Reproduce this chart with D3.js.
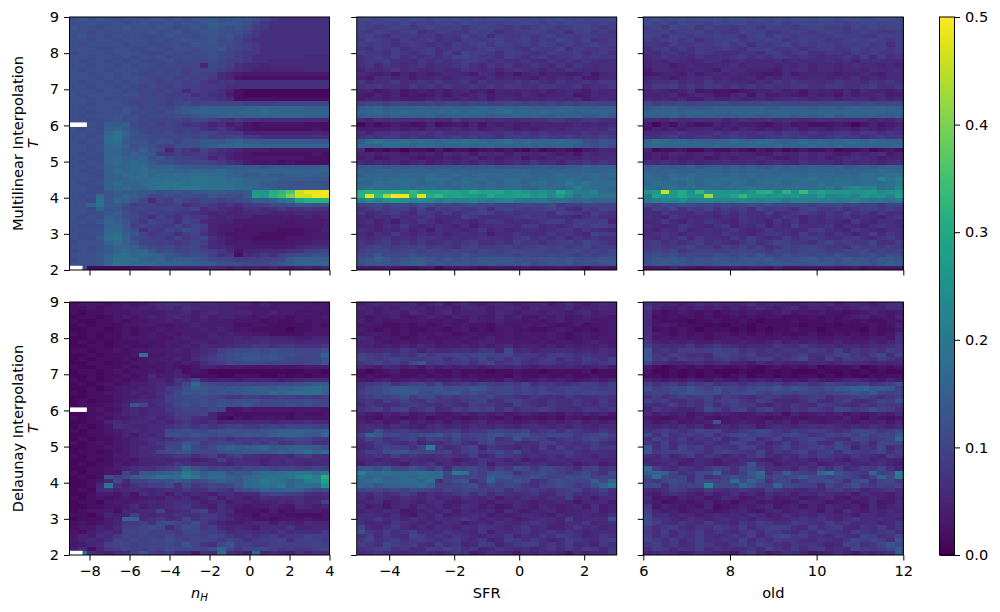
<!DOCTYPE html>
<html><head><meta charset="utf-8">
<script src="https://cdn.jsdelivr.net/npm/d3@7"></script>
<style>html,body{margin:0;background:#fff}svg{display:block}text{font-family:"DejaVu Sans";fill:#000}</style>
</head><body><svg id="c" width="1000" height="612"></svg>
<script>
// Values, one string per row (top row first), 30 blocks across.
// Letter code in hundredths: a=0.00 ... z=0.25, A=0.26 ... Y=0.50. Spaces are only for counting.
const mlNH = [
"mnmnmlmmmn nmnmnnomno nmkihhhhhh","mmnmmmlmnm mnmnmnonon mkihhhhhhh","nmmlmmnmmm nmlmnmonmn mjihhhhhhh","mmlmlmmmmn mmnlmnnmmm kihhhhhhhh",
"mnmmlmlmll mnmmlmnmnl jihhhhhhhh","mmlmmlmmml mlmnmmnlmk ihhhhhhhhh","mlmmmmlmml lmmlnmnmlk jihhhhhhhh","mmmllmmllm mlmmlmmnlk jihhhhhhhh",
"lmmmlmmmlk lmllmlmlkj iihhhhhhhh","mmlmmlmlml mklmllmlkj ihhhhhhggg","mlmmlmlmlk lmkllklkjj ihhggggggg","mmlmmlmlml kllkkflkjh ggfggggggg",
"mlmmlmmmlk lkljkkkjih gffffffggg","mmlmmlmlkk lkljkjjgfe dddddddddd","mmmlmlmmlk kljkjkigfd cccccccccc","mlmmlmlmll jkkjkihiih hhhhhhhhhh",
"mmlmmlmlkl kjkjjiiihh hhhhhhhhhh","mmmlmmllkk jkjgjiihfc bbbbbbbbbb","mlmmmlmmkk kjjjhihhec bbbbbbbbbb","mmlmlmllkl kjkjjiihgc cccccccccc",
"mmlmmmlkkl kjlljkkkkk jjjjkkkkkk","mlmmmlnmkl lkmooppppp qqqqqqqppp","mmlmmmnlll kmnoppqqqq qqrqqqqqqq","mlmmmnmmkl llmmnooppp ppqqqqqppp",
"mmllmnmmlk kkkjlljihi hhgggggggg","mmmlooplkl jkjhihfhef dcdddddccc","mlmlpqomlk kkjkjhgige dcccccccdc","mmllqsqnlk kljkjkkiii ffffffffff",
"mmlmrtpmml lkllkljjkk iihhhhhhhh","mlmlrsonnl mmkmmoonpq oooooooonn","mmlmqrpmnm kjmmmopqqr qqqqqqqqqq","mmlmqqonpn lfjihkihgf eeeddddddd",
"mlmlqqopon iijiijhgfe dcccccccdc","mmllqrppqm olkkjifhfe dddddddccc","mlmlqrqrqo mmlkkkjihg edddcdcccc","mmlmpqqrrp pqoonnnnoo oonoooooop",
"mlmlprqrsr qqqqrqqrqp ppqqqqqpqq","mmllpqrrsq rrsrssrrqp oopooppppp","mmmlpqqrrs ssrsttssrr qqppoooonn","mllmprqqrs sttsttsssr qqoonnmnnm",
"mmllpqrqqs ttuuutttts rqponnnnnn","mmllnpoonn mmnmnnoonn oBAFHKUXXY","mlmrnoqpnk lmlmllnmml oCBGIOUUXX","mmlsnqpnkg kjmkjlkjkl mooqsuDFFG",
"mnqtoomjkk jjkhijihih ijjllmnnmm","mmlqnnlkkj kkjjkgihgf hhghihhihh","mmlmnpmkjk jjiihgfgff gggfffggff","mlmlpomljh kihjiigfgf feeeeeefef",
"mmlnqpnkil jjhkjgfffe eeeeedeeee","mlllpqojkj jikikjfeee dddddddeee","mmmmqqomhj iljmkifeed ddddcccddf","mlmmrspnki jjhjkhfedd ddcccccdee",
"mllnstqllj jikijlhfed dccccdddee","lmmmqrpnkk jjijljgfee edddddeeff","mmlmoqqpml kljkkiggfe eeeeeefghh","lmlnoqrqqn lmkklkjigd ffggghhjjk",
"mmmnprsqrq pnmlmljhic ghihjkllnm","lmmnqsssqp qopoonlkkj jjkklopppp","mmmnqtsrrr qqqppoommm lkkmnopqqq","mmbbbbbccd eeeeeeffef efefedefef"];
const mlSFR = [
"llkllkmlkl lmllklmklk lklmllklkl","kjkkjljkjk kjlkjkjkkl kjkjlkkjkj","kjijkjijkj jkijkjjiji jkjijkkjij","jikjijkhij jiikjjhijj kjijhjkiji",
"jkihjijiih iikijhjiij ijkijijjii","ikjihjiijh ihjjijkijk ijiljikhij","jijihijihi hjijkikjij ikjijijkij","ihjijhiijh ijiijkijih jiikhjiiji",
"jiihjihijh jhkjjihjji hijiijhijh","hijijhihih ikkjiihjih ijhiijijii","hiijhhgihi hijjihihhi hgihihihgh","higihghigh hijhgihigh ihgigihghh",
"fhghighggh ggihghfhih gfhgihgghh","gfefdfefef ggfehgefdf geffeegdfg","feghfgeffg fghgfhfgff egfgfheegg","ighhighihi hhigihhhih ihgihhihii",
"hiihhgihih ihhihihiih hiihhighhi","ffdefdefef efgefdfffg fgefgfegff","edfefdedef dfefgeffeg feffgdegfg","effefeeefg ffgfgefgff gfggfgefgg",
"jkkjkkjjkj kkjkkjjkkj kjkjkjkkjj","opqopppqpp qpppqpqqpq pppqqppopp","qqrqqrqqqq qrqrqqrsqq qrqqqpqqqp","oppoqpppqo ppqppoppqp qpopppoopo",
"gfhghghghg gighhghggh hhiihhiihh","bdcdedcdfc dedfdfefee fffffgfgfg","eeeefefegf fgfgefgfef efgfghghgi","hfhhihhihi hhhiihhihi hihhhhihih",
"hihiihihhi ijijiihiji ijiijiiiji","ostrrsrsrq rrsrrqrsqr qqqrqqmlnm","qqqrrrqrrq qqrqqrqqqq pqpqqonmnl","gbcbcaccbd bccbcdcdcb dbcdcbdegf",
"ffeffefefe gfgegfgegf fgfefdgfgg","efdeffedee fefgefefgd fefgffgggh","gfgfgefgef gfgfhgfghg ighfhhihih","noononoonn nonnoonnnn oonnoopppp",
"qppqppqqpq qpqppqpqpq ppqpqqqppq","pqqpqrqqrq qrqqrqrqqr qqqrqqrrqr","rqrqrrrqsr rqrrrqqrrq qrqrsrqrqq","qqsrrsrqrr qrsrqrqrrq rsqrusurrs",
"rsrrrsrssr rqsrqrqsrq qsrqrvsrrq","FGGFGEHEDD EDCFDDEBCA yzxEzvuwrr","GWHRYXGWFH DDCBzEBBCD ABxBwsvutt","vywzAzxyxu wvvxvuvxut tursrqrqqp",
"jkljlkkmlk lkllkkjjjl kkmijjkkjj","hijijjhkhj ijiikhjkji jjkjhgjikj","ighijhgjih jhijkjhihi iihkjihjih","gfhgighhig ggjihghhij iihhgfhihh",
"ghfgehgihf ghgfhiighg hijjhjjijf","fgfhgigfgh gfhegghhgi ighghjikji","hgfgfhfgeh ggfgifhfgh hghiigihgf","gfhgigfhgh fghgheggih ghihihgkji",
"hghighgiih ghghihhgij hihigihihh","ihijhihihh ihijhhihji ihijkikjih","ijkjijjkij ihjkiijkij jkjkijkiji","jkkljkljkk jkkjlkjklk kkjkkljkjl",
"klnklkmlkk lkmklkkljl kkllkjkjkl","mnpomnoonm nmnmonnonm mnnmnmmmnn","mnnnmoppmn mnnmnomnmn lmnmnlmlmn","dddedccdeb ddedcdddde dddeddbddc"];
const mlOld = [
"lmlmmlmlml mmlmlmlmml mmlmmllmml","lkljlkkjlk kljkkljklk lkkjkllkkl","jkiljkikjj ijkikjjijk kjjikjkjkk","jjkijjkiji ikjjiijkji jkjijkjiij",
"kjhkjijjkj jhjkikjijj ijkjjiikkj","jijkijhijj kijjkjijkj jiijkjkjij","iihjiijijk ijhjijkiji kjijjkijhj","hijhjhjiij ihjjkiijhi jjiikijjij",
"hgiihhjihg hiihjjhijh hiihjijiij","ghihhgighh ijhihjihih ghhihjgjhi","fgfhgfghhf ghggghfhgg ghghfhhhgg","fggefgffgg hfgggfgfhf ggfghggfgf",
"eggfffgfeh ggfffegghf ggfggfhggh","deffegefgf gffedegeff ffeffgfegg","fgfefgghfg ffgegfhgfg gfgfhfgfgg","ghhighgihh ggfhgihihh ghihhgihih",
"hiijhihiih ihihihhiih hiihhijhhi","fgfefhdedd cdeffgefdf ffegegffef","fffgefgfdd fgdgeefedf efdgeffgee","gfgfgeegff gffgfgghgf ggfgggfgfg",
"ljkkljkkll kkkkllkkkk kkllkllkkl","nopponnopp ppppoopppo ppopqppqpp","pqqqpqqppp qqqqpqqqqp qqqqqqqqpq","pppqopopoo oppooppopo pqoppppoop",
"ggfhgghghf ghgghghgfg hghgggfgfh","ebecfdcdfe feedcefdec cdedbdfdef","dfefeffgef egfefefgef feffegfefg","gghhihghih ihhiihjihi hhiihiihih",
"hhijhhiihi jihhiijiih hijiihijii","psrqrqqpqq rqqrrqpqrq rqqrrqrqqp","qrqqqqqqrq qqrqqrqqqr qqrqqqqqqq","fbccdbbdcc dcbdcdbcdc cdbccdbcdc",
"efegfefgef gffeegffhf gfeegfghef","efdfeefdef effgfeefgf gefghgfeff","gghgfgfggh gghfghgfhg ggfhghgfgh","oponopnopo poponpopop oppnopopqp",
"qpqqppqqqp qpqqqpqppq qqpqpqqrqq","rqprqrqqrq rqrqrqrqqr qrqrqsrrss","rrqsrsqrrs rrqrrsrsrs rrsrrsrwtw","qsrrqsqrsq srqrsrqrrr trssrssrtu",
"srrsrsrrqr rstsrsrsrs survxvwrsx","zBUBEzHAAz AyAFGzGzIB DAAAzAByzB","uDABEBAQBA DHBBzBzByx BwxyvAyzwC","tvxwyvwxvw wxwvxwuwvv vvuvwutusu",
"kjlkmlkkjl kkmklkklkj kkljkjkikj","hjikhjikhj ijhkijihjk iijhijkiji","hgihhgihgi gihhjghiji hihjhigihh","hgfihgghfh gihghgihfh gihighgfhi",
"ggigfhgihg fihgfigifh ghgfigfhhg","hgfgihgfhi fhgifhgjhg hifhgfhihg","gfhgifghgh igfgihhggi jhgfihgfhh","ghihfhghgi hgfhiihgjh igihfhjgih",
"hgihjgihhg ihjhghjhij ihhijhgijh","ijhihijhih gijhikjiih jkijiikhhj","ijiijkiihj ikijhikjkk jiihkjjiji","jkjkijkkjj klkjikkjkl kjjkkljkjk",
"lmlmklkkml kmlnkkmklk lkmlklmkml","mnnonmnmon mnnnommnno mnmonnmoon","mnonnmnmno nnomnonnmn onmnonmnpo","dddfedcded edeedfddde deddecdddd"];
const dlNH = [
"cdddcdedef ghhgfggfff fefeeeeedd","ccdcddeefe ggfhgffffe eeedeeeded","cbccdddeee effgefgfff feefeedddd","bccbcdedef efgfegeffe ededdcddde",
"cbbccdcdde efefefeeed ddcdccdcdd","bcbcccddee ddeefeeeec cddcccccdc","bbccbcdcdd edeeefefed dccccbccdd","cbcbccdcde dedeeefefe eddccccddd",
"bbcbccddde ddefeefffg fggfffeeff","bcbcbcccdd deeeffeffg gghgggfggg","bbccbcdccd deefegffgh hiihiihhhi","ccbccdcdde eefefghjkl lmlmllkkkm",
"bbcbcccdtd deeefhikmm nnmnmmlklp","bcbcccdcde eefegijklm nnmnmlkkln","bbccbccdde dedfegijlk lllkkkjkln","cbbcccdcdd dedcdffeee dddddddeee",
"bccbcdcdde defcdcbbbb bbbbbbbccb","bbcbccdcdg eefecccbbc ccbbcbcbcc","cbcbcdcddf feihkfeffe ffffeffggg","bcbcdcdeef gfhkrmlkjk kkkkllmnoo",
"bbcbcdeeff gijmonmmnn oppoppqrsq","cbccddefef hilnmnmnmn ooprqrsssq","bbcccdeeff gjklmlkjii jjiijjijij","bcbccdefgg hjkllmkmlm mmkllllmlk",
"bcccdefnkf hilmkmlnmm nlkllmlmkl","cbcdcdfgfg gijkkjlkdd eddddddddd","bbccdefgfg ghjjjkfddc ccccccdccd","cbcdceefgh fgijhgfcbd cddddcdddd",
"bbccfgfggf gfhigfhfgg gggfggghgg","bcbcdhgffg ghijhjhijj iijjjkjkjj","cbccdefgfg gklmlkmmnm mmnoppqpoq","bbccddfegf hmmlnmlmmn onnpqqponr",
"bcbccdefgh ghijkkijhi iijijklkii","cbcdcdeffh ijjnmijkkj ijikhijjhh","bbccddefgg hkkpljlopo opqnopppom","bccbcdefgh klmnllkmnn oonoqpqsqs",
"cbccceefgg ghiigijgij hhgghgijhh","bbcbcdedff gfggefgjgh ggfgghgghg","bcbccedeff fgihghggfh hhfgghgfgg","bbccdefhhh ijkqmljkkj lkljkkjjkj",
"cbccddkhnn opquroqqmo nqrrstuuru","bcbcmjlopq srrvuqrrpo qrstttwyvF","bbcdflgjjl lmonlmnpon qrutsqrvvD","bbcfuhfhij jlhlijkkln qrtsuqssrA",
"bcbghfghgf ghhihhjihk mnqppqpnlm","bbceedfdhf gehfgfeghf ggjkkjjhgh","cbcdcdedef egfgefhegf efhggghffg","bccbdedefg fghhgefgef feffgfhfgk",
"bbccddegef fghigfehfe deefedgfef","bcddecffgh kfghjkfhgd ddcecdeeed","ccbdfefjgf ggihhiihfe dceddccccd","bcccefqpgh ighkhjihge eddcdddedd",
"cdcdefiijh lmkjmigfee fggegfegff","cddfegjjkm lgjmlijgfg feghgiffgg","dcefgfkklj jjikljjigh hghgighhgi","dfehgikjkk jljkkjlkih ihijhiikjj",
"efgfhkjkjl kmljkkjikj hijjkhjkji","defgjkkjkk kljnkihlnj jiijjjjjkj","egcfijljjl kmlllkmqli klljijiijk","bsgfeghjnj ijggdhgrhg eqfgfehfhg"];
const dlSFR = [
"efgfffgefh efhfefgfef fgefhfefgf","gfefegffef feggfefgfe gfffgeffgf","efeffegfef gefffegfef feffefgeff","edeefddefe dfefeegefd dfefdefeed",
"fdeddededd eddfeefeed edefdeedde","dedccdcdcd ededdcedde dedcdecdde","edcdcdccdd cdecdcdedd ccdedcdcde","deedcdcdde dcdedddede ddedcdedde",
"gfdedcdedd ddedefdedd ededcdedee","ffeddedeed eedeffeeee dedeedefed","ffefefegfe eefefefgef fefefefefe","hgghgihfhg ghhgiiflgh fgghgfgfhg",
"kjijhihkij jkjklkjkii ihijihihhg","kjijkjiijj hjkikijhji hijgihjihj","ijkijhlnij iijhjkhijh hiihhgihij","gfegfefdfe feffefgfgf efffgfefge",
"cbcdecccdc cdcccbccdc cbccccdbcc","cdccdccdcd cdcdcccbdc cdccdccdcc","edefdefefe efeededfed efefedefef","hijkhijkil hijikjijik hiihhijjhj",
"iklmnonmmn lmmonlkljk jkijkkjjij","jklmnoomlm nolmkjkljk jlkjkjklkj","ijkjkmikli jijkjkiihg ihhgihhhih","hihjikihji ihijkhhjki hgihhihgih",
"gihghijihg ihgjiihgji hgihhihgih","hijhjkhijg hjikjkhjhi ijihhgiihi","fedfefdefe defefefdef ededfefefd","edcedcdecd edcdedcecd dcdcedcdcc",
"fefdegefef dfefgefede fefefgefef","ghgfhgfegh fgfhgfhgfg hgfgfhgfgg","ghmiijihhi ijhiikkjjk hijhjihgih","jqokljllmn kmjkkmnlmn kjllkijkmj",
"hkjhijkhkj ilijkmhinj kjhijiklji","ghjihgifhg ijhgjkiihg hjjhihijhg","fgikjjhkvi ghjkfihgfh gjgjhihjii","hjimmnlklj khjkijlimh ghiijhghhg",
"ghigjhihgh ihhjfgjihg hghgihgfhg","fgfgfhggfh gefgihgfhe ffggfghgfg","eghgfehgif gfhgiehgfh ghffgefgef","nnmokkmlil glkljhkiml ilkjigjkhi",
"wsrtrrrsrr kuskjmnlhj kmkjijlihl","rqrqqrqsrr jkkljpnnkk mljkmlmjkk","qrsqqrrqsh kmnhjqkknl hikmlkkpkq","qpnppqqrpj jklmikjlki hjkmkijmqt",
"klkjkjlkji kjkkjikhji jihijkhikh","hgighjifhg hijhjgihgh iggijhghig","gfhgfhgfhf gfhgfhegfh gfhgjfgegh","fghefgfegh fefgfegfgf effgfdgfge",
"gefdfgehfg efhgefdegf egfefgehef","fgfhgdefgf hegffgehfe ffgeffghef","ghgfhedgfh efghgefefg gfegffgffh","hgighfhgfh ghihfgfgef ghgfjfghgm",
"hfgfihgfgf hgefgfhgfh ihgfhgifgh","kgfhigfgfh gfhgihgfhi ghffgighfg","mihjhijghg ihgfiehghi ghihigfghg","hjgihgkjhi gihgfhgifh gihjihfgih",
"ikhijhijih ijhgifgjih ihfgjihgij","jihljijhgj hifgjifhij jgihjghfih","hijkhiggji kjhifgihgh fhigihjigi","ghihgfghgf gihefhgfdg fhgfdgfgfi"];
const dlOld = [
"hfffefgfgf ffhfgffefg fgefgfefgh","ifeefefefe fefgfefgef fefefgffgg","hdcdedcdcd ededdefded eddcdefede","hccdcdcdcc dcdcddcccd cdcdefdedf",
"gdcccbccdc cdcbcccdcc cdcdcdccdd","gdedcccbcb ccbcccccbc ccbcccdcdf","hcdcdcbccc bcbcbccdcc bccccbdcce","hedcdcdcdd cdcdcdcccd ccdcdcdcdg",
"hdededdcde ededddedee ddeeddeedh","ifefefeefe efeefgefef eefeeefefh","jhgghifhih gfgggihgih ggfggfgghi","nhihjjijkj jhihihiihj ihjgihihji",
"nihjihhgkk jijhhihijh hijkihjlhk","oijhjiihij ihijjhijlh gjhjiihjig","khgffghfgh ffegfgfffg gfghggfgfg","ecbcdcdcdc cdcbcdcdcd bcccdbcdcd",
"dbbcbcbcbb bcbbcbcbbb cbbcbcbcbb","ccbcbcbccb cdbccbcbcc bcbcbbcccc","fededfedfe dfefefdedf edefgfedfe","jhijhjijhi ihijijhijh ikjiijhijm",
"mjkmlnljmk kjlmlnlnmk kmnopqnonj","jkjlmnmlmj klmkjlkjlk jklmnmokjk","hjhijijkhj ihgijihhij jhiijkihij","kijhgihjij kihjiggfhj hgijhgikjn",
"hghjhihjgi jiigfhgihg jiihgihjii","fihgffhljh jkhjkhgihj ihlkijmkjh","gefefdefef edefefcfde fefdedefeg","edcdedfdcd ededcdedcd dedfdcedcd",
"fdefdeefnd efedfefdfe defedfefdf","gfgfhfgefg fhgefhgfgh ghgfgfhgfg","hijihiljkh hijlkihjij jihilkkijl","lhkhijikhi kljkjikljh ikjljmjkkn",
"hkihjgihjg hjkgikhijl kihglkijkr","ihkgihgigh kjhifhjgij hgkihjgkkl","nhjgkijhii hkjhgikhij kiljfihlgi","nijkkjihjk jihkgihjkh ikhljijkhj",
"hgifhjgihf hgijgfhgih jihgihgfji","fghgfegfeg fhgfefgfge ghfeghfgff","gfghefgfef ghnhgefgfh efghffghfe","rjhgihgikj hkmjhghfig jhkghjikhf",
"oqpkhiklqi hjnrhjokji qtmkjiqjkv","lrljkhlhik mkmqjlkmok ljlkjhkqlu","jiklkhlkjk rlqmhklhjl kmkhlmhkli","klhkjkkvlk lqokjqlkjj gkikmjikjk",
"gfhjihgihg hihgjihgfh gijhifghig","feghgfegef hfgehfgegf hgfgegffeg","gdedfefdeg fdefgeefde fgedfegfef","fecdedefde cefdeedegf fdefdegdeg",
"idfededfcd efefgdefdf egfefdgefg","jfefdefede fgedfgefgf dgehfegfgf","kghfgfefgf gfhgefhfgf hgfgehgfgh","lihgfhgfgh ghfhgfghih igfhigghgf",
"mjhgihgjhg fihjighjih hjhighhfgi","jhijhgihji hjgijkjhgj hijgfihjgi","ihjgihjgih gijhjihgih jihgjihijh","jhigihjhgh ihjgiklijh hgihgkjhik",
"kihjgijhhi hkgihjiihg ihgiljkjhn","ijhighjihg ijhjihgihi hfgkjhiknl","hjigihjgih ghigkihjgi jghgkjijlo","fghgefhgfe dhjgefhgfd efhfegfgho"];

const xDomains = [[-9,4],[-5,3],[6,12]];
const xTickValues = [[-8,-6,-4,-2,0,2,4],[-4,-2,0,2],[6,8,10,12]];
const yTickValues = [2,3,4,5,6,7,8,9];
const cbTickValues = [0,0.1,0.2,0.3,0.4,0.5];
const xLabels = ["SFR","old"];
const rowTitles = ["Multilinear Interpolation","Delaunay Interpolation"];
const emptyBins = [{row:25,cells:4},{row:59,cells:3}]; // white (no data) bins of the n_H panels, from the left edge

const grids = [[mlNH,mlSFR,mlOld],[dlNH,dlSFR,dlOld]];
const decode = s => Array.from(s.replace(/ /g,""),ch=>{const c=ch.charCodeAt(0);return (c>=97?c-97:c-65+26)/100;});
const color = d3.scaleSequential(d3.interpolateViridis).domain([0,0.5]);
const svg = d3.select("#c");
const panelX=[[69.5,329.5],[356.7,616.7],[643.3,903.3]], panelY=[[17,270],[302,555]];
const FS=14.6;

function styleAxis(g){
  g.selectAll("path.domain").remove();
  g.selectAll("line").attr("stroke","#000").attr("stroke-width",1);
  g.selectAll("text").attr("font-size",FS).attr("font-family","DejaVu Sans").attr("fill","#000");
}
grids.forEach((rowGrids,ri)=>rowGrids.forEach((grid,ci)=>{
  const [x0,x1]=panelX[ci],[y0,y1]=panelY[ri];
  const x=d3.scaleLinear().domain(xDomains[ci]).range([x0,x1]);
  const y=d3.scaleLinear().domain([2,9]).range([y1,y0]);
  const rows=d3.scaleBand().domain(d3.range(60)).range([y0,y1]);
  const cols=d3.scaleBand().domain(d3.range(30)).range([x0,x1]);
  const g=svg.append("g");
  grid.forEach((s,r)=>{
    g.selectAll(null).data(decode(s).slice(0,30)).join("rect")
      .attr("x",(d,i)=>cols(i)).attr("y",rows(r))
      .attr("width",cols.bandwidth()+0.4).attr("height",rows.bandwidth()+0.4)
      .attr("fill",d=>color(d)).attr("shape-rendering","crispEdges");
  });
  if(ci===0) emptyBins.forEach(b=>{
    g.append("rect").attr("x",x0).attr("y",rows(b.row))
     .attr("width",x(xDomains[0][0]+b.cells*13/60)-x0).attr("height",rows.bandwidth()+0.3).attr("fill","#fff");
  });
  const ax=d3.axisBottom(x).tickValues(xTickValues[ci]).tickSize(5.5).tickPadding(5).tickFormat(ri?d3.format("d"):"");
  svg.append("g").attr("transform",`translate(0,${y1})`).call(ax).call(styleAxis);
  const ay=d3.axisLeft(y).tickValues(yTickValues).tickSize(5.5).tickPadding(5).tickFormat(ci?"":d3.format("d"));
  svg.append("g").attr("transform",`translate(${x0},0)`).call(ay).call(styleAxis);
  svg.append("rect").attr("x",x0).attr("y",y0).attr("width",x1-x0).attr("height",y1-y0)
     .attr("fill","none").attr("stroke","#000").attr("stroke-width",1);
  if(ci===0){
    const cy=(y0+y1)/2;
    const t=svg.append("g").attr("transform",`translate(23,${cy}) rotate(-90)`);
    t.append("text").attr("text-anchor","middle").attr("font-size",FS).text(rowTitles[ri]);
    t.append("text").attr("y",15).attr("text-anchor","middle").attr("font-size",FS).attr("font-style","italic").text("T");
  }
}));
// x labels
const nh=svg.append("text").attr("x",199.5).attr("y",598).attr("text-anchor","middle").attr("font-size",FS).attr("font-style","italic");
nh.append("tspan").text("n");
nh.append("tspan").attr("dy",3).attr("font-size",FS*0.7).text("H");
xLabels.forEach((l,i)=>svg.append("text").attr("x",(panelX[i+1][0]+panelX[i+1][1])/2).attr("y",598).attr("text-anchor","middle").attr("font-size",FS).text(l));
// colour bar
const cbY=d3.scaleLinear().domain([0,0.5]).range([555,17]);
const cbX=[939.5,954.5];
svg.append("g").selectAll("rect").data(d3.range(0,256)).join("rect")
  .attr("x",cbX[0]).attr("width",cbX[1]-cbX[0])
  .attr("y",i=>cbY((i+1)/256*0.5)).attr("height",i=>cbY(i/256*0.5)-cbY((i+1)/256*0.5)+0.5)
  .attr("fill",i=>color((i+0.5)/256*0.5)).attr("shape-rendering","crispEdges");
svg.append("rect").attr("x",cbX[0]).attr("y",17).attr("width",cbX[1]-cbX[0]).attr("height",538).attr("fill","none").attr("stroke","#000");
svg.append("g").attr("transform",`translate(${cbX[1]},0)`).call(d3.axisRight(cbY).tickValues(cbTickValues).tickSize(5.5).tickPadding(5).tickFormat(d3.format(".1f"))).call(styleAxis);
</script></body></html>
